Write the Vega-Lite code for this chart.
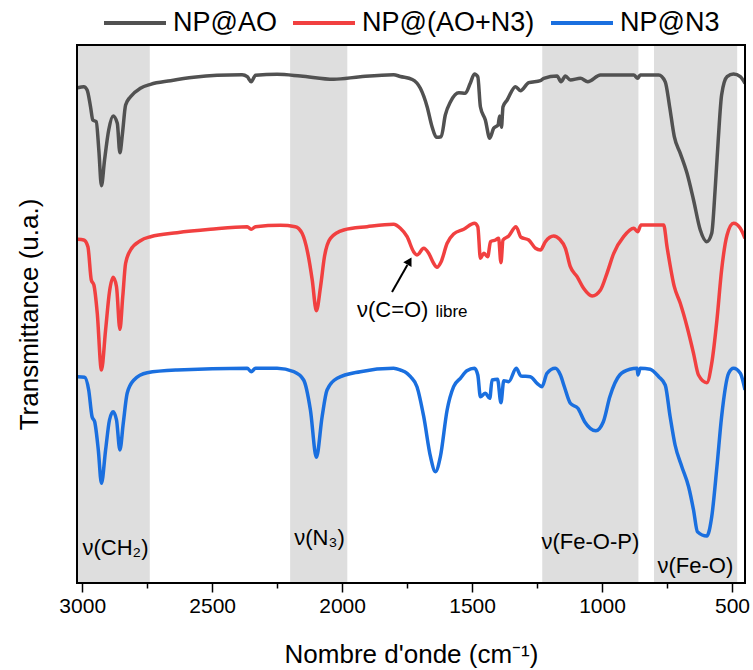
{
  "$schema": "https://vega.github.io/schema/vega-lite/v6.json",
  "width": 668,
  "height": 538,
  "autosize": {"type": "none"},
  "padding": {"left": 77, "top": 45, "right": 8, "bottom": 87},
  "background": "white",
  "config": {
    "font": "Liberation Sans",
    "view": {"stroke": null},
    "axis": {"grid": false, "titleFontWeight": "normal", "titleColor": "black", "labelColor": "black"}
  },
  "datasets": {
    "bands": [
      {"a": 3017, "b": 2740},
      {"a": 2200, "b": 1980},
      {"a": 1230, "b": 860},
      {"a": 800, "b": 480}
    ],
    "frame": [
      {"a": 3020, "b": 450, "lo": 0, "hi": 538}
    ],
    "spectra": [
      {"s": "NP@AO", "x": 3017, "y": 495.3},
      {"s": "NP@AO", "x": 2994, "y": 496.3},
      {"s": "NP@AO", "x": 2981, "y": 493},
      {"s": "NP@AO", "x": 2968, "y": 476.3},
      {"s": "NP@AO", "x": 2959, "y": 463},
      {"s": "NP@AO", "x": 2946, "y": 461.3},
      {"s": "NP@AO", "x": 2936, "y": 433},
      {"s": "NP@AO", "x": 2926, "y": 397.3},
      {"s": "NP@AO", "x": 2914, "y": 423},
      {"s": "NP@AO", "x": 2898, "y": 453},
      {"s": "NP@AO", "x": 2881, "y": 467},
      {"s": "NP@AO", "x": 2865, "y": 459.7},
      {"s": "NP@AO", "x": 2855, "y": 430.3},
      {"s": "NP@AO", "x": 2845, "y": 449.7},
      {"s": "NP@AO", "x": 2833, "y": 478},
      {"s": "NP@AO", "x": 2814, "y": 486.3},
      {"s": "NP@AO", "x": 2776, "y": 494.7},
      {"s": "NP@AO", "x": 2737, "y": 498.7},
      {"s": "NP@AO", "x": 2660, "y": 502.3},
      {"s": "NP@AO", "x": 2571, "y": 505.7},
      {"s": "NP@AO", "x": 2481, "y": 507.7},
      {"s": "NP@AO", "x": 2385, "y": 508.3},
      {"s": "NP@AO", "x": 2365, "y": 506.3},
      {"s": "NP@AO", "x": 2350, "y": 501.3},
      {"s": "NP@AO", "x": 2333, "y": 507.7},
      {"s": "NP@AO", "x": 2250, "y": 508.7},
      {"s": "NP@AO", "x": 2160, "y": 507},
      {"s": "NP@AO", "x": 2032, "y": 503.7},
      {"s": "NP@AO", "x": 1930, "y": 506.3},
      {"s": "NP@AO", "x": 1802, "y": 508.3},
      {"s": "NP@AO", "x": 1776, "y": 506.5},
      {"s": "NP@AO", "x": 1730, "y": 503.5},
      {"s": "NP@AO", "x": 1699, "y": 494.7},
      {"s": "NP@AO", "x": 1673, "y": 476.3},
      {"s": "NP@AO", "x": 1654, "y": 456.3},
      {"s": "NP@AO", "x": 1637, "y": 445.7},
      {"s": "NP@AO", "x": 1619, "y": 446.3},
      {"s": "NP@AO", "x": 1603, "y": 468},
      {"s": "NP@AO", "x": 1583, "y": 481.3},
      {"s": "NP@AO", "x": 1551, "y": 490.3},
      {"s": "NP@AO", "x": 1526, "y": 489.7},
      {"s": "NP@AO", "x": 1507, "y": 499.7},
      {"s": "NP@AO", "x": 1491, "y": 509},
      {"s": "NP@AO", "x": 1478, "y": 506.3},
      {"s": "NP@AO", "x": 1468, "y": 476.3},
      {"s": "NP@AO", "x": 1449, "y": 463},
      {"s": "NP@AO", "x": 1432, "y": 444.7},
      {"s": "NP@AO", "x": 1417, "y": 454.7},
      {"s": "NP@AO", "x": 1400, "y": 458},
      {"s": "NP@AO", "x": 1394, "y": 467},
      {"s": "NP@AO", "x": 1387, "y": 455.7},
      {"s": "NP@AO", "x": 1381, "y": 476.3},
      {"s": "NP@AO", "x": 1365, "y": 483},
      {"s": "NP@AO", "x": 1333, "y": 496.3},
      {"s": "NP@AO", "x": 1314, "y": 492.3},
      {"s": "NP@AO", "x": 1282, "y": 500.3},
      {"s": "NP@AO", "x": 1237, "y": 502.3},
      {"s": "NP@AO", "x": 1224, "y": 504.7},
      {"s": "NP@AO", "x": 1173, "y": 507},
      {"s": "NP@AO", "x": 1158, "y": 501.3},
      {"s": "NP@AO", "x": 1141, "y": 507},
      {"s": "NP@AO", "x": 1122, "y": 503},
      {"s": "NP@AO", "x": 1083, "y": 504.7},
      {"s": "NP@AO", "x": 1055, "y": 501.3},
      {"s": "NP@AO", "x": 1006, "y": 508},
      {"s": "NP@AO", "x": 878, "y": 508},
      {"s": "NP@AO", "x": 863, "y": 504.7},
      {"s": "NP@AO", "x": 853, "y": 508},
      {"s": "NP@AO", "x": 782, "y": 508},
      {"s": "NP@AO", "x": 757, "y": 501.3},
      {"s": "NP@AO", "x": 740, "y": 476.3},
      {"s": "NP@AO", "x": 722, "y": 446.3},
      {"s": "NP@AO", "x": 699, "y": 429.7},
      {"s": "NP@AO", "x": 673, "y": 409.7},
      {"s": "NP@AO", "x": 648, "y": 383},
      {"s": "NP@AO", "x": 622, "y": 353},
      {"s": "NP@AO", "x": 597, "y": 341.3},
      {"s": "NP@AO", "x": 578, "y": 349.7},
      {"s": "NP@AO", "x": 565, "y": 393},
      {"s": "NP@AO", "x": 553, "y": 443},
      {"s": "NP@AO", "x": 540, "y": 488},
      {"s": "NP@AO", "x": 519, "y": 506.3},
      {"s": "NP@AO", "x": 494, "y": 509},
      {"s": "NP@AO", "x": 468, "y": 506.3},
      {"s": "NP@AO", "x": 450, "y": 499.7},

      {"s": "NP@(AO+N3)", "x": 3017, "y": 343.7},
      {"s": "NP@(AO+N3)", "x": 2994, "y": 343},
      {"s": "NP@(AO+N3)", "x": 2978, "y": 336.3},
      {"s": "NP@(AO+N3)", "x": 2965, "y": 303},
      {"s": "NP@(AO+N3)", "x": 2955, "y": 298},
      {"s": "NP@(AO+N3)", "x": 2942, "y": 269.7},
      {"s": "NP@(AO+N3)", "x": 2926, "y": 213},
      {"s": "NP@(AO+N3)", "x": 2910, "y": 253},
      {"s": "NP@(AO+N3)", "x": 2895, "y": 291.3},
      {"s": "NP@(AO+N3)", "x": 2881, "y": 305.7},
      {"s": "NP@(AO+N3)", "x": 2868, "y": 296.3},
      {"s": "NP@(AO+N3)", "x": 2855, "y": 253.7},
      {"s": "NP@(AO+N3)", "x": 2844, "y": 286.3},
      {"s": "NP@(AO+N3)", "x": 2833, "y": 319.7},
      {"s": "NP@(AO+N3)", "x": 2814, "y": 333},
      {"s": "NP@(AO+N3)", "x": 2776, "y": 342.3},
      {"s": "NP@(AO+N3)", "x": 2737, "y": 346.3},
      {"s": "NP@(AO+N3)", "x": 2635, "y": 350.3},
      {"s": "NP@(AO+N3)", "x": 2507, "y": 353.7},
      {"s": "NP@(AO+N3)", "x": 2365, "y": 356.3},
      {"s": "NP@(AO+N3)", "x": 2350, "y": 353.7},
      {"s": "NP@(AO+N3)", "x": 2333, "y": 356.3},
      {"s": "NP@(AO+N3)", "x": 2237, "y": 357.7},
      {"s": "NP@(AO+N3)", "x": 2180, "y": 356.3},
      {"s": "NP@(AO+N3)", "x": 2154, "y": 349.7},
      {"s": "NP@(AO+N3)", "x": 2132, "y": 329.7},
      {"s": "NP@(AO+N3)", "x": 2115, "y": 303},
      {"s": "NP@(AO+N3)", "x": 2099, "y": 272.3},
      {"s": "NP@(AO+N3)", "x": 2083, "y": 296.3},
      {"s": "NP@(AO+N3)", "x": 2068, "y": 326.3},
      {"s": "NP@(AO+N3)", "x": 2045, "y": 344.7},
      {"s": "NP@(AO+N3)", "x": 1994, "y": 353},
      {"s": "NP@(AO+N3)", "x": 1904, "y": 356.3},
      {"s": "NP@(AO+N3)", "x": 1802, "y": 358.7},
      {"s": "NP@(AO+N3)", "x": 1776, "y": 354.7},
      {"s": "NP@(AO+N3)", "x": 1750, "y": 346.3},
      {"s": "NP@(AO+N3)", "x": 1725, "y": 331.3},
      {"s": "NP@(AO+N3)", "x": 1712, "y": 328},
      {"s": "NP@(AO+N3)", "x": 1686, "y": 334.7},
      {"s": "NP@(AO+N3)", "x": 1667, "y": 329.7},
      {"s": "NP@(AO+N3)", "x": 1648, "y": 319.7},
      {"s": "NP@(AO+N3)", "x": 1635, "y": 315.7},
      {"s": "NP@(AO+N3)", "x": 1619, "y": 321.3},
      {"s": "NP@(AO+N3)", "x": 1596, "y": 339.7},
      {"s": "NP@(AO+N3)", "x": 1571, "y": 349},
      {"s": "NP@(AO+N3)", "x": 1532, "y": 353.7},
      {"s": "NP@(AO+N3)", "x": 1491, "y": 359.7},
      {"s": "NP@(AO+N3)", "x": 1478, "y": 356.3},
      {"s": "NP@(AO+N3)", "x": 1468, "y": 324.7},
      {"s": "NP@(AO+N3)", "x": 1455, "y": 329.7},
      {"s": "NP@(AO+N3)", "x": 1440, "y": 326.3},
      {"s": "NP@(AO+N3)", "x": 1429, "y": 341.3},
      {"s": "NP@(AO+N3)", "x": 1410, "y": 343},
      {"s": "NP@(AO+N3)", "x": 1398, "y": 344.7},
      {"s": "NP@(AO+N3)", "x": 1389, "y": 320.3},
      {"s": "NP@(AO+N3)", "x": 1381, "y": 343},
      {"s": "NP@(AO+N3)", "x": 1359, "y": 347},
      {"s": "NP@(AO+N3)", "x": 1331, "y": 356.3},
      {"s": "NP@(AO+N3)", "x": 1312, "y": 345.7},
      {"s": "NP@(AO+N3)", "x": 1282, "y": 343},
      {"s": "NP@(AO+N3)", "x": 1256, "y": 334.7},
      {"s": "NP@(AO+N3)", "x": 1237, "y": 333},
      {"s": "NP@(AO+N3)", "x": 1218, "y": 341.3},
      {"s": "NP@(AO+N3)", "x": 1186, "y": 347},
      {"s": "NP@(AO+N3)", "x": 1163, "y": 343.7},
      {"s": "NP@(AO+N3)", "x": 1141, "y": 334.7},
      {"s": "NP@(AO+N3)", "x": 1122, "y": 316.3},
      {"s": "NP@(AO+N3)", "x": 1096, "y": 306.3},
      {"s": "NP@(AO+N3)", "x": 1071, "y": 294.7},
      {"s": "NP@(AO+N3)", "x": 1038, "y": 287},
      {"s": "NP@(AO+N3)", "x": 1006, "y": 293},
      {"s": "NP@(AO+N3)", "x": 981, "y": 309.7},
      {"s": "NP@(AO+N3)", "x": 955, "y": 329.7},
      {"s": "NP@(AO+N3)", "x": 917, "y": 346.3},
      {"s": "NP@(AO+N3)", "x": 878, "y": 354.7},
      {"s": "NP@(AO+N3)", "x": 863, "y": 351.3},
      {"s": "NP@(AO+N3)", "x": 850, "y": 358},
      {"s": "NP@(AO+N3)", "x": 763, "y": 358},
      {"s": "NP@(AO+N3)", "x": 750, "y": 336.3},
      {"s": "NP@(AO+N3)", "x": 722, "y": 296.3},
      {"s": "NP@(AO+N3)", "x": 699, "y": 279.7},
      {"s": "NP@(AO+N3)", "x": 673, "y": 256.3},
      {"s": "NP@(AO+N3)", "x": 648, "y": 229.7},
      {"s": "NP@(AO+N3)", "x": 629, "y": 208},
      {"s": "NP@(AO+N3)", "x": 597, "y": 200.3},
      {"s": "NP@(AO+N3)", "x": 578, "y": 219.7},
      {"s": "NP@(AO+N3)", "x": 558, "y": 263},
      {"s": "NP@(AO+N3)", "x": 540, "y": 313},
      {"s": "NP@(AO+N3)", "x": 519, "y": 348},
      {"s": "NP@(AO+N3)", "x": 494, "y": 359.7},
      {"s": "NP@(AO+N3)", "x": 468, "y": 354.7},
      {"s": "NP@(AO+N3)", "x": 450, "y": 344.7},

      {"s": "NP@N3", "x": 3017, "y": 206.3},
      {"s": "NP@N3", "x": 2991, "y": 205.7},
      {"s": "NP@N3", "x": 2975, "y": 193},
      {"s": "NP@N3", "x": 2962, "y": 166.3},
      {"s": "NP@N3", "x": 2952, "y": 161.3},
      {"s": "NP@N3", "x": 2938, "y": 133},
      {"s": "NP@N3", "x": 2926, "y": 99.7},
      {"s": "NP@N3", "x": 2910, "y": 133},
      {"s": "NP@N3", "x": 2895, "y": 163},
      {"s": "NP@N3", "x": 2881, "y": 171.3},
      {"s": "NP@N3", "x": 2868, "y": 163},
      {"s": "NP@N3", "x": 2855, "y": 133},
      {"s": "NP@N3", "x": 2842, "y": 159.7},
      {"s": "NP@N3", "x": 2827, "y": 189.7},
      {"s": "NP@N3", "x": 2801, "y": 203},
      {"s": "NP@N3", "x": 2750, "y": 210.3},
      {"s": "NP@N3", "x": 2635, "y": 213},
      {"s": "NP@N3", "x": 2365, "y": 214.7},
      {"s": "NP@N3", "x": 2350, "y": 211.3},
      {"s": "NP@N3", "x": 2333, "y": 214.7},
      {"s": "NP@N3", "x": 2250, "y": 214.7},
      {"s": "NP@N3", "x": 2186, "y": 211.3},
      {"s": "NP@N3", "x": 2148, "y": 203},
      {"s": "NP@N3", "x": 2122, "y": 173},
      {"s": "NP@N3", "x": 2099, "y": 125.7},
      {"s": "NP@N3", "x": 2077, "y": 166.3},
      {"s": "NP@N3", "x": 2058, "y": 193},
      {"s": "NP@N3", "x": 2019, "y": 204.7},
      {"s": "NP@N3", "x": 1930, "y": 211.3},
      {"s": "NP@N3", "x": 1802, "y": 214.7},
      {"s": "NP@N3", "x": 1776, "y": 213},
      {"s": "NP@N3", "x": 1750, "y": 209.7},
      {"s": "NP@N3", "x": 1737, "y": 206.3},
      {"s": "NP@N3", "x": 1712, "y": 196.3},
      {"s": "NP@N3", "x": 1686, "y": 166.3},
      {"s": "NP@N3", "x": 1660, "y": 126.3},
      {"s": "NP@N3", "x": 1641, "y": 111.3},
      {"s": "NP@N3", "x": 1622, "y": 126.3},
      {"s": "NP@N3", "x": 1596, "y": 173},
      {"s": "NP@N3", "x": 1571, "y": 196.3},
      {"s": "NP@N3", "x": 1545, "y": 204.7},
      {"s": "NP@N3", "x": 1520, "y": 212.3},
      {"s": "NP@N3", "x": 1491, "y": 214.7},
      {"s": "NP@N3", "x": 1478, "y": 208},
      {"s": "NP@N3", "x": 1468, "y": 186.3},
      {"s": "NP@N3", "x": 1449, "y": 189.7},
      {"s": "NP@N3", "x": 1432, "y": 184.7},
      {"s": "NP@N3", "x": 1423, "y": 203},
      {"s": "NP@N3", "x": 1402, "y": 203.7},
      {"s": "NP@N3", "x": 1389, "y": 180.3},
      {"s": "NP@N3", "x": 1378, "y": 202.3},
      {"s": "NP@N3", "x": 1359, "y": 201.3},
      {"s": "NP@N3", "x": 1330, "y": 214.7},
      {"s": "NP@N3", "x": 1312, "y": 207},
      {"s": "NP@N3", "x": 1276, "y": 206.3},
      {"s": "NP@N3", "x": 1250, "y": 199.7},
      {"s": "NP@N3", "x": 1231, "y": 196.3},
      {"s": "NP@N3", "x": 1212, "y": 209.7},
      {"s": "NP@N3", "x": 1180, "y": 214.7},
      {"s": "NP@N3", "x": 1160, "y": 208},
      {"s": "NP@N3", "x": 1145, "y": 196.3},
      {"s": "NP@N3", "x": 1122, "y": 179.7},
      {"s": "NP@N3", "x": 1093, "y": 174.7},
      {"s": "NP@N3", "x": 1067, "y": 161.3},
      {"s": "NP@N3", "x": 1024, "y": 152.3},
      {"s": "NP@N3", "x": 995, "y": 161.3},
      {"s": "NP@N3", "x": 970, "y": 186.3},
      {"s": "NP@N3", "x": 932, "y": 208},
      {"s": "NP@N3", "x": 893, "y": 213.7},
      {"s": "NP@N3", "x": 865, "y": 214.7},
      {"s": "NP@N3", "x": 862, "y": 208},
      {"s": "NP@N3", "x": 853, "y": 214.7},
      {"s": "NP@N3", "x": 815, "y": 213.7},
      {"s": "NP@N3", "x": 782, "y": 206.3},
      {"s": "NP@N3", "x": 757, "y": 198},
      {"s": "NP@N3", "x": 738, "y": 166.3},
      {"s": "NP@N3", "x": 719, "y": 138},
      {"s": "NP@N3", "x": 693, "y": 116.3},
      {"s": "NP@N3", "x": 667, "y": 96.3},
      {"s": "NP@N3", "x": 648, "y": 73},
      {"s": "NP@N3", "x": 633, "y": 51.3},
      {"s": "NP@N3", "x": 597, "y": 47},
      {"s": "NP@N3", "x": 578, "y": 66.3},
      {"s": "NP@N3", "x": 558, "y": 116.3},
      {"s": "NP@N3", "x": 540, "y": 166.3},
      {"s": "NP@N3", "x": 513, "y": 209.7},
      {"s": "NP@N3", "x": 494, "y": 214.7},
      {"s": "NP@N3", "x": 468, "y": 209.7},
      {"s": "NP@N3", "x": 450, "y": 193}
    ],
    "labels": [
      {"t": "ν(CH₂)", "x": 2872, "y": 28},
      {"t": "ν(N₃)", "x": 2087, "y": 38},
      {"t": "ν(Fe-O-P)", "x": 1045, "y": 34},
      {"t": "ν(Fe-O)", "x": 641, "y": 10}
    ],
    "note": [
      {"t": "ν(C=O)", "x": 1943, "y": 266, "size": 22},
      {"t": "libre", "x": 1641, "y": 266, "size": 17}
    ],
    "arrow": [
      {"x1": 1808, "y1": 291, "x2": 1749, "y2": 318, "hx": 1741, "hy": 322}
    ]
  },
  "layer": [
    {
      "data": {"name": "bands"},
      "mark": {"type": "rect", "color": "#dedede"},
      "encoding": {
        "x": {"field": "a", "type": "quantitative"},
        "x2": {"field": "b"}
      }
    },
    {
      "data": {"name": "spectra"},
      "mark": {"type": "line", "strokeWidth": 3.5, "clip": true, "interpolate": "monotone"},
      "encoding": {
        "x": {
          "field": "x", "type": "quantitative",
          "scale": {"domain": [3020, 450], "nice": false, "zero": false},
          "axis": {
            "title": "Nombre d'onde (cm⁻¹)",
            "titleFontSize": 26,
            "titlePadding": 25,
            "labelFontSize": 21,
            "labelPadding": 3,
            "values": [3000, 2750, 2500, 2250, 2000, 1750, 1500, 1250, 1000, 750, 500],
            "format": "d",
            "labelExpr": "datum.value % 500 === 0 ? datum.label : ''",
            "labelOverlap": false,
            "labelFlush": false,
            "domain": false,
            "tickColor": "black",
            "tickWidth": 1.5,
            "tickSize": {"condition": {"test": "datum.value % 500 === 0", "value": 9}, "value": 5}
          }
        },
        "y": {
          "field": "y", "type": "quantitative",
          "scale": {"domain": [0, 538], "nice": false, "zero": false},
          "axis": {
            "title": "Transmittance (u.a.)",
            "titleFontSize": 26,
            "titlePadding": 35,
            "labels": false,
            "ticks": false,
            "domain": false
          }
        },
        "color": {
          "field": "s", "type": "nominal",
          "scale": {"domain": ["NP@AO", "NP@(AO+N3)", "NP@N3"], "range": ["#515151", "#F14040", "#1A6FDF"]},
          "legend": {
            "title": null,
            "orient": "none",
            "direction": "horizontal",
            "legendX": 25,
            "legendY": -55,
            "symbolType": "stroke",
            "symbolSize": 3844,
            "symbolStrokeWidth": 4,
            "labelFontSize": 27,
            "labelLimit": 0,
            "labelColor": "black",
            "labelOffset": 5,
            "columnPadding": 8
          }
        }
      }
    },
    {
      "data": {"name": "labels"},
      "mark": {"type": "text", "fontSize": 22, "color": "black", "align": "center", "baseline": "alphabetic"},
      "encoding": {
        "x": {"field": "x", "type": "quantitative"},
        "y": {"field": "y", "type": "quantitative"},
        "text": {"field": "t"}
      }
    },
    {
      "data": {"name": "note"},
      "mark": {"type": "text", "color": "black", "align": "left", "baseline": "alphabetic"},
      "encoding": {
        "x": {"field": "x", "type": "quantitative"},
        "y": {"field": "y", "type": "quantitative"},
        "text": {"field": "t"},
        "size": {"field": "size", "type": "quantitative", "scale": null, "legend": null}
      }
    },
    {
      "data": {"name": "arrow"},
      "mark": {"type": "rule", "color": "black", "strokeWidth": 2},
      "encoding": {
        "x": {"field": "x1", "type": "quantitative"},
        "y": {"field": "y1", "type": "quantitative"},
        "x2": {"field": "x2"},
        "y2": {"field": "y2"}
      }
    },
    {
      "data": {"name": "arrow"},
      "mark": {"type": "point", "shape": "triangle-up", "filled": true, "color": "black", "size": 90, "angle": 30, "opacity": 1},
      "encoding": {
        "x": {"field": "hx", "type": "quantitative"},
        "y": {"field": "hy", "type": "quantitative"}
      }
    },
    {
      "data": {"name": "frame"},
      "mark": {"type": "rect", "fill": null, "fillOpacity": 0, "stroke": "black", "strokeWidth": 2},
      "encoding": {
        "x": {"field": "a", "type": "quantitative"},
        "x2": {"field": "b"},
        "y": {"field": "lo", "type": "quantitative"},
        "y2": {"field": "hi"}
      }
    }
  ]
}
